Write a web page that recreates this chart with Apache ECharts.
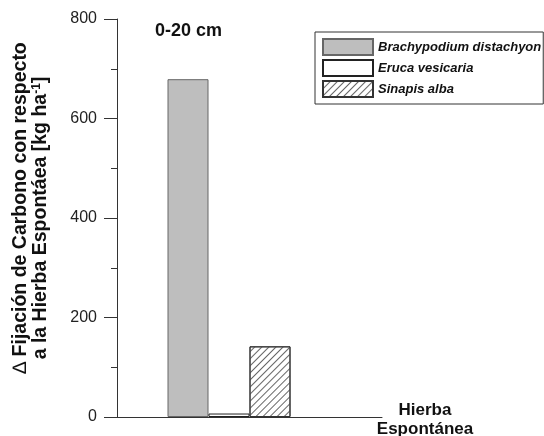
<!DOCTYPE html>
<html><head><meta charset="utf-8">
<script src="https://cdn.jsdelivr.net/npm/echarts@6/dist/echarts.min.js"></script>
<style>html,body{margin:0;padding:0;background:#fff}#c{width:544px;height:436px}</style>
</head><body><div id="c"></div>
<script>
const categories = ['Hierba Espontánea'];
const seriesNames = ['Brachypodium distachyon', 'Eruca vesicaria', 'Sinapis alba'];
const brachypodium = [679];
const eruca = [7];
const sinapis = [142];
const yTicks = [0, 200, 400, 600, 800];

const chart = echarts.init(document.getElementById('c'));
const font = 'Liberation Sans, Arial, sans-serif';
chart.setOption({
  animation: false,
  backgroundColor: '#fff',
  title: {
    text: '0-20 cm', left: 155, top: 22, padding: 0,
    textStyle: { fontFamily: font, fontSize: 18, fontWeight: 'bold', color: '#111' }
  },
  legend: {
    data: seriesNames,
    orient: 'vertical', left: 315, top: 32,
    padding: [6, 2, 6, 7],
    borderColor: '#333', borderWidth: 1,
    icon: 'rect',
    itemWidth: 50, itemHeight: 16, itemGap: 3,
    textStyle: { fontFamily: font, fontSize: 13, fontWeight: 'bold', fontStyle: 'italic', color: '#111' }
  },
  grid: { left: 117, right: 162, top: 19, bottom: 19, containLabel: false, outerBoundsMode: 'none' },
  xAxis: {
    type: 'category', data: categories,
    name: '{g|}\n{n|Hierba}\n{n|Espontánea}', nameLocation: 'end', nameGap: 43,
    nameTextStyle: {
      fontFamily: font, fontSize: 17, fontWeight: 'bold', color: '#111', align: 'center', verticalAlign: 'middle', lineHeight: 19,
      rich: {
        g: { fontSize: 4, lineHeight: 6 },
        n: { fontFamily: font, fontSize: 17, fontWeight: 'bold', color: '#111', lineHeight: 19 }
      }
    },
    axisLine: { lineStyle: { color: '#333', width: 1 } },
    axisTick: { show: false }, axisLabel: { show: false }
  },
  yAxis: {
    type: 'value', min: yTicks[0], max: yTicks[yTicks.length - 1], interval: 200,
    name: '{d|∆} {t|Fijación de Carbono con respecto}\n{t|a la Hierba Espontáea [kg ha}{s|-1}{t|]}',
    nameLocation: 'middle', nameGap: 66, nameRotate: 90,
    nameTextStyle: {
      fontFamily: font, fontSize: 19.5, fontWeight: 'bold', color: '#111', lineHeight: 20,
      rich: {
        t: { fontFamily: font, fontSize: 19.5, fontWeight: 'bold', color: '#111', lineHeight: 20 },
        d: { fontFamily: font, fontSize: 19.5, fontWeight: 'normal', color: '#111', lineHeight: 20, padding: [0, 0, 0, 20] },
        s: { fontFamily: font, fontSize: 12, fontWeight: 'bold', color: '#111', verticalAlign: 'top', lineHeight: 20 }
      }
    },
    axisLine: { show: true, lineStyle: { color: '#333', width: 1 } },
    axisTick: { show: true, inside: false, length: 13, lineStyle: { color: '#333' } },
    minorTick: { show: true, splitNumber: 2, length: 6, lineStyle: { color: '#333' } },
    splitLine: { show: false },
    axisLabel: { margin: 20, fontFamily: font, fontSize: 16, color: '#222' }
  },
  series: [
    { name: seriesNames[0], type: 'bar', data: brachypodium, barWidth: 41, barGap: '0%',
      itemStyle: { color: '#bebebe', borderColor: '#666', borderWidth: 1 } },
    { name: seriesNames[1], type: 'bar', data: eruca, barWidth: 41, barGap: '0%',
      itemStyle: { color: '#fff', borderColor: '#222', borderWidth: 1 } },
    { name: seriesNames[2], type: 'bar', data: sinapis, barWidth: 41, barGap: '0%',
      itemStyle: { color: '#fff', borderColor: '#333', borderWidth: 1,
        decal: { symbol: 'rect', dashArrayX: [1, 0], dashArrayY: [1, 4], rotation: -Math.PI / 4, color: '#666', symbolSize: 1 } } },
    { name: '', type: 'bar', data: ['-'], barWidth: 41, barGap: '0%', silent: true }
  ]
});
</script></body></html>
